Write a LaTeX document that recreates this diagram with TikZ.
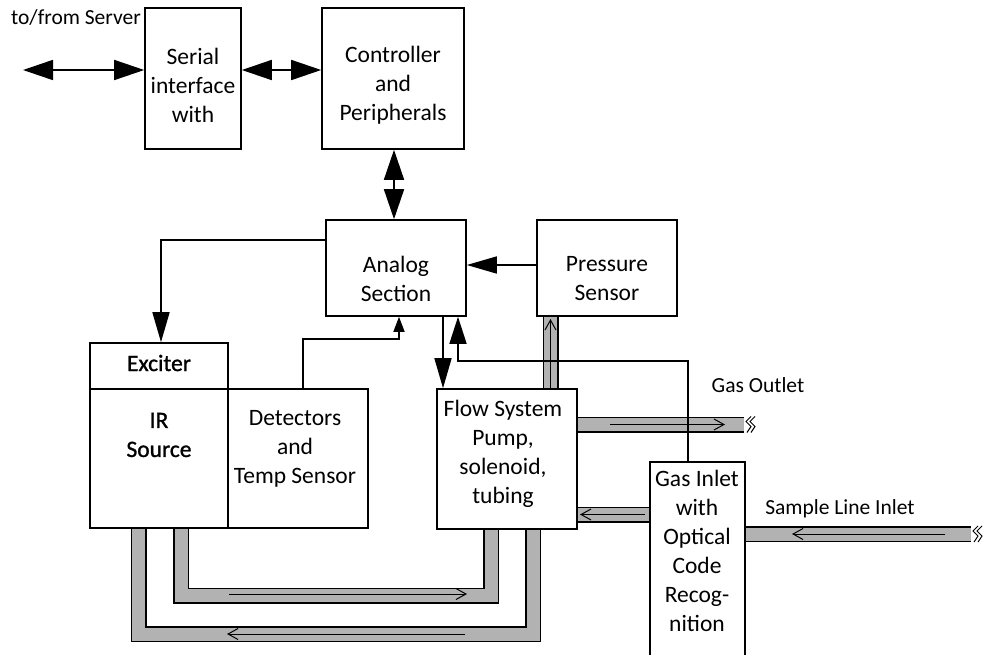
\documentclass[tikz,border=0pt]{standalone}
\usepackage{fontspec}
\setmainfont{Carlito}
\newfontfamily\semib[FakeBold=1.2]{Carlito}
\usetikzlibrary{arrows.meta}
\definecolor{pipegray}{gray}{0.70}
\begin{document}
\begin{tikzpicture}[x=1pt,y=-1pt,
  box/.style={draw, line width=1.6pt, inner sep=0pt},
  txt/.style={align=center, inner sep=0pt, font=\fontsize{23.5}{29}\selectfont},
  small/.style={inner sep=0pt, font=\fontsize{21.5}{23}\selectfont},
  conn/.style={line width=1.6pt},
  bigtip/.style={-{Triangle[length=30pt,width=17pt]}},
  dbltip/.style={{Triangle[length=30pt,width=20pt]}-{Triangle[length=30pt,width=20pt]}},
  pipe/.style={double=pipegray, double distance=13pt, line width=1.5pt, line join=miter},
  flow/.style={line width=1pt, -{Straight Barb[length=10pt,width=11pt,line width=1pt]}},
  brk/.style={line width=1pt}]
\useasboundingbox (0,0) rectangle (993,654);

% ---------- pipes ----------
\draw[pipe] (181,528) -- (181,595.5) -- (491,595.5) -- (491,529);
\draw[pipe] (138.5,528) -- (138.5,634) -- (533,634) -- (533,529);
\draw[pipe] (550.5,389) -- (550.5,316);
\draw[pipe] (577,424.5) -- (744,424.5);
\draw[pipe] (577,514.5) -- (650,514.5);
\draw[pipe] (745,534) -- (971,534);

% inner flow arrows
\draw[flow] (229,594) -- (467,594);
\draw[flow] (465,634) -- (227,634);
\draw[flow] (550.5,388) -- (550.5,319);
\draw[flow] (610,424.5) -- (725,424.5);
\draw[flow] (645,514.5) -- (580,514.5);
\draw[flow] (945,534) -- (792,534);

% break symbols
\foreach \bx/\by in {748/424.5, 975/534}{
  \draw[brk] (\bx+3,\by-8) -- (\bx-2,\by-3) -- (\bx+3,\by+2) -- (\bx-1,\by+8);
  \draw[brk] (\bx+7,\by-8) -- (\bx+2,\by-3) -- (\bx+7,\by+2) -- (\bx+3,\by+8);
}

% ---------- boxes ----------
\node[box, minimum width=96pt, minimum height=141pt] (serial) at (193,78.5) {};
\node[box, minimum width=142pt, minimum height=141pt] (ctrl) at (393,78.5) {};
\node[box, minimum width=140pt, minimum height=96pt] (analog) at (396,268) {};
\node[box, minimum width=140pt, minimum height=96pt] (press) at (607,268) {};
\node[box, minimum width=138pt, minimum height=46pt] (exciter) at (159,366) {};
\node[box, minimum width=138pt, minimum height=139pt] (ir) at (159,458.5) {};
\node[box, minimum width=140pt, minimum height=139pt] (det) at (298,458.5) {};
\node[box, minimum width=140pt, minimum height=140pt] (flowsys) at (507,459) {};
\node[inner sep=0pt, minimum width=95pt, minimum height=200pt] (gasin) at (697.5,562) {};
\draw[line width=1.6pt] (650,660) -- (650,462) -- (745,462) -- (745,660);

% ---------- texts ----------
\node[txt] (serialtxt) at (193,85) {Serial\\interface\\with};
\node[txt] (ctrltxt) at (393,85) {Controller\\and\\Peripherals};
\node[txt] (analogtxt) at (396,279) {Analog\\Section};
\node[txt] (presstxt) at (607,279) {Pressure\\Sensor};
\node[txt] (excitertxt) at (159,363) {\semib Exciter};
\node[txt] (irtxt) at (159,435) {\semib IR\\\semib Source};
\node[txt] (dettxt) at (295,449) {Detectors\\and\\Temp Sensor};
\node[txt] (flowtxt) at (503,454) {Flow System\\Pump,\\solenoid,\\tubing};
\node[txt] (gasintxt) at (697,551) {Gas Inlet\\with\\Optical\\Code\\Recog-\\nition};
\node[small] (serverlbl) at (76,17) {to/from Server};
\node[small] (outletlbl) at (758,385) {Gas Outlet};
\node[small] (samplelbl) at (840,509) {Sample Line Inlet};

% ---------- connectors ----------
\coordinate (server) at (23,70);
\draw[conn, dbltip] (server) -- (serial.west |- server);
\draw[conn, dbltip] (serial.east |- server) -- (ctrl.west |- server);
\draw[conn, dbltip] (ctrl.south -| 394,0) -- (analog.north -| 394,0);
\coordinate (a1) at (161,240);
\draw[conn, bigtip] (analog.west |- a1) -- (a1) -- (exciter.north -| a1);
\draw[conn, bigtip] (press.west |- 0,265) -- (analog.east |- 0,265);
\coordinate (d1) at (303,339);
\coordinate (d2) at (399,339);
\draw[conn, -{Triangle[length=15pt,width=11pt]}] (det.north -| d1) -- (d1) -- (d2) -- (analog.south -| d2);
\draw[conn, bigtip] (analog.south -| 443,0) -- (flowsys.north -| 443,0);
\coordinate (g1) at (688,361);
\coordinate (g2) at (458,361);
\draw[conn, -{Triangle[length=27pt,width=17pt]}] (gasin.north -| g1) -- (g1) -- (g2) -- (analog.south -| g2);
\end{tikzpicture}
\end{document}
